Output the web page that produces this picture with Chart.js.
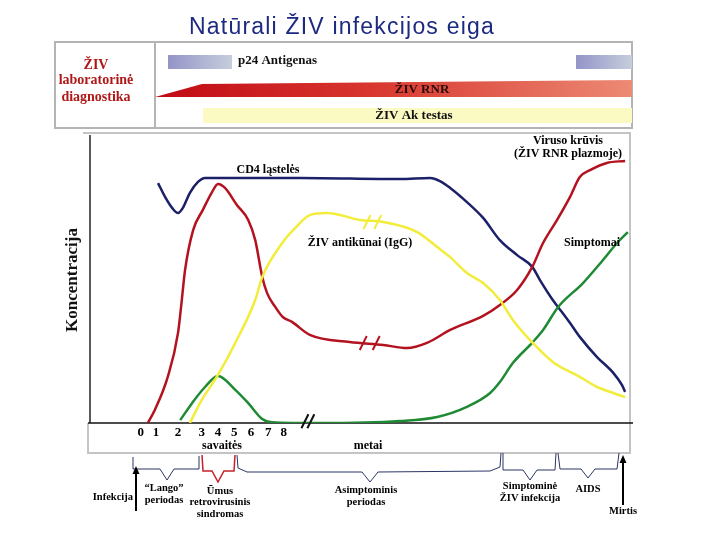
<!DOCTYPE html>
<html>
<head>
<meta charset="utf-8">
<title>Natūrali ŽIV infekcijos eiga</title>
<script src="https://cdn.jsdelivr.net/npm/chart.js"></script>
<style>
  html, body { margin: 0; padding: 0; background: #fff; }
  #wrap { width: 720px; height: 540px; position: relative; }
</style>
</head>
<body>
<div id="wrap"><canvas id="hivChart"></canvas></div>
<script>
// timeline position (0-100) and concentration (0-100)
const cd4X = [12.6, 13.9, 15.2, 16.3, 17.2, 18.5, 20.0, 21.3, 38.9, 57.4, 63.0, 64.8, 66.7, 69.8, 72.8, 75.9, 79.1, 81.9, 83.3, 85.7, 87.4, 88.9, 90.7, 93.9, 96.9, 98.5, 99.1];
const cd4Y = [83.3, 78.5, 74.7, 72.9, 74.7, 79.9, 83.7, 85.1, 85.1, 84.7, 85.1, 84.0, 81.6, 76.7, 71.2, 63.5, 58.3, 54.2, 49.7, 42.7, 38.5, 34.7, 29.9, 22.9, 17.4, 13.2, 10.8];

const rnaX = [10.7, 12.0, 14.4, 16.3, 17.0, 17.6, 19.1, 20.9, 22.6, 23.7, 25.0, 27.2, 29.3, 30.6, 31.9, 32.8, 34.3, 35.7, 37.4, 40.7, 48.1, 54.3, 58.7, 62.4, 66.7, 72.8, 75.9, 79.1, 81.9, 83.9, 86.5, 88.9, 90.7, 92.6, 95.7, 99.1];
const rnaY = [0, 4.5, 16.0, 31.3, 42.7, 53.1, 67.0, 74.0, 80.2, 83.0, 81.6, 75.7, 70.5, 63.5, 50.7, 45.1, 40.3, 36.8, 35.1, 30.6, 28.1, 27.1, 26.0, 27.8, 32.3, 37.2, 41.0, 46.2, 54.2, 62.5, 70.5, 78.5, 85.4, 87.8, 90.3, 91.0];

const iggX = [18.5, 20.7, 23.7, 26.9, 30.6, 31.9, 35.6, 38.0, 40.7, 43.9, 46.3, 50.0, 54.3, 60.6, 64.3, 66.7, 69.8, 72.8, 75.9, 78.3, 82.0, 85.7, 90.7, 93.9, 96.9, 99.1];
const iggY = [0, 8.0, 16.7, 27.8, 42.7, 50.7, 62.5, 67.7, 72.2, 72.9, 72.2, 70.5, 69.8, 66.3, 61.1, 57.6, 52.1, 48.6, 42.7, 35.8, 27.8, 21.2, 16.0, 12.5, 10.4, 9.0];

const symX = [16.7, 18.9, 21.3, 23.7, 26.9, 29.3, 31.9, 33.7, 42.6, 57.4, 64.3, 69.8, 74.1, 75.9, 78.3, 82.0, 83.9, 86.7, 91.3, 95.0, 97.6, 99.6];
const symY = [1.0, 6.9, 12.5, 16.3, 11.5, 6.9, 1.4, 0.3, 0, 0.7, 2.1, 5.6, 10.4, 14.2, 20.8, 28.1, 32.3, 40.3, 48.6, 56.6, 62.5, 66.3];

const weekTicks = [9.4, 12.2, 16.3, 20.7, 23.7, 26.7, 29.8, 33.0, 35.9];
const weekLabels = ['0', '1', '2', '3', '4', '5', '6', '7', '8'];

const breakMarks = [
  { x: 51.3, y: 69.8, color: '#f2ec3a' },
  { x: 53.3, y: 69.8, color: '#f2ec3a' },
  { x: 50.6, y: 27.8, color: '#b3121f' },
  { x: 53.0, y: 27.8, color: '#b3121f' },
  { x: 39.8, y: 0.6, color: '#111' },
  { x: 40.9, y: 0.6, color: '#111' }
];

const serif = '"Liberation Serif", "DejaVu Serif", serif';

function toPoints(xs, ys) {
  return xs.map((x, i) => ({ x, y: ys[i] }));
}

function text(c, str, x, y, font, color, align) {
  c.font = font;
  c.fillStyle = color || '#000';
  c.textAlign = align || 'center';
  c.textBaseline = 'middle';
  c.fillText(str, x, y);
}

function polyline(c, pts, color, width) {
  c.beginPath();
  c.moveTo(pts[0][0], pts[0][1]);
  pts.slice(1).forEach(p => c.lineTo(p[0], p[1]));
  c.strokeStyle = color;
  c.lineWidth = width || 1;
  c.stroke();
}

function arrowUp(c, x, yTop, yBottom) {
  polyline(c, [[x, yBottom], [x, yTop + 4]], '#000', 2);
  c.beginPath();
  c.moveTo(x, yTop);
  c.lineTo(x - 3.5, yTop + 8);
  c.lineTo(x + 3.5, yTop + 8);
  c.closePath();
  c.fillStyle = '#000';
  c.fill();
}

const decorPlugin = {
  id: 'decor',
  beforeDatasetsDraw(chart) {
    const c = chart.ctx;
    const a = chart.chartArea;
    c.save();

    c.save();
    c.letterSpacing = '1.2px';
    text(c, 'Natūrali ŽIV infekcijos eiga', 342, 28, '23px "Liberation Sans", Arial, sans-serif', '#1c2a80');
    c.restore();

    // laboratory diagnostics panel
    c.strokeStyle = '#b4b4b4';
    c.lineWidth = 2;
    c.strokeRect(55, 42, 577, 86);
    polyline(c, [[155, 42], [155, 128]], '#b4b4b4', 2);

    text(c, 'ŽIV', 96, 65, 'bold 14px ' + serif, '#b01818');
    text(c, 'laboratorinė', 96, 80, 'bold 14px ' + serif, '#b01818');
    text(c, 'diagnostika', 96, 97, 'bold 14px ' + serif, '#b01818');

    let g = c.createLinearGradient(168, 0, 232, 0);
    g.addColorStop(0, '#9494c8');
    g.addColorStop(1, '#c6cedc');
    c.fillStyle = g;
    c.fillRect(168, 55, 64, 14);
    g = c.createLinearGradient(576, 0, 632, 0);
    g.addColorStop(0, '#9494c8');
    g.addColorStop(1, '#c6cedc');
    c.fillStyle = g;
    c.fillRect(576, 55, 56, 14);
    text(c, 'p24 Antigenas', 238, 61, 'bold 13px ' + serif, '#111', 'left');

    g = c.createLinearGradient(155, 0, 632, 0);
    g.addColorStop(0, '#c00a14');
    g.addColorStop(0.45, '#d8362e');
    g.addColorStop(1, '#ec8a74');
    c.beginPath();
    c.moveTo(155, 97);
    c.lineTo(202, 84);
    c.lineTo(632, 80);
    c.lineTo(632, 97);
    c.closePath();
    c.fillStyle = g;
    c.fill();
    text(c, 'ŽIV RNR', 422, 90, 'bold 13px ' + serif, '#2a0a0a');

    c.fillStyle = '#fbfac2';
    c.fillRect(203, 108, 429, 15);
    text(c, 'ŽIV Ak testas', 414, 116, 'bold 13px ' + serif, '#111');

    // plot frame and axes
    polyline(c, [[83, 133], [630, 133], [630, 453], [88, 453], [88, a.bottom]], '#c4c4c4', 2);
    polyline(c, [[a.left, a.top], [a.left, a.bottom]], '#222', 1.5);
    polyline(c, [[88, a.bottom], [633, a.bottom]], '#111', 1.5);

    c.save();
    c.translate(73, 280);
    c.rotate(-Math.PI / 2);
    text(c, 'Koncentracija', 0, 0, 'bold 17px ' + serif, '#111');
    c.restore();

    c.restore();
  },
  afterDatasetsDraw(chart) {
    const c = chart.ctx;
    const a = chart.chartArea;
    const xs = chart.scales.x;
    const ys = chart.scales.y;
    c.save();

    breakMarks.forEach(b => {
      const px = xs.getPixelForValue(b.x);
      const py = ys.getPixelForValue(b.y);
      polyline(c, [[px - 3.5, py + 7], [px + 3.5, py - 7]], b.color, 2);
    });

    text(c, 'CD4 ląstelės', 268, 170, 'bold 12px ' + serif);
    text(c, 'ŽIV antikūnai (IgG)', 360, 243, 'bold 12px ' + serif);
    text(c, 'Viruso krūvis', 568, 141, 'bold 12px ' + serif);
    text(c, '(ŽIV RNR plazmoje)', 568, 154, 'bold 12px ' + serif);
    text(c, 'Simptomai', 592, 243, 'bold 12px ' + serif);

    weekTicks.forEach((t, i) => {
      text(c, weekLabels[i], xs.getPixelForValue(t), a.bottom + 10, 'bold 13px ' + serif);
    });
    text(c, 'savaitės', 222, 446, 'bold 12px ' + serif);
    text(c, 'metai', 368, 446, 'bold 12px ' + serif);

    // stage braces under the timeline
    const navy = '#2b3566';
    polyline(c, [[133, 457], [133, 469], [160, 469], [167, 480], [174, 469], [199, 469], [199, 456]], navy);
    polyline(c, [[202, 455], [203, 471], [212, 471], [218, 482], [224, 471], [234, 471], [235, 455]], '#c8202a', 1.5);
    polyline(c, [[237, 455], [238, 468], [247, 472], [362, 472], [370, 482], [378, 472], [490, 471], [500, 467], [501, 453]], navy);
    polyline(c, [[503, 453], [503, 470], [523, 470], [530, 480], [537, 470], [555, 470], [556, 453]], navy);
    polyline(c, [[558, 453], [560, 469], [581, 469], [588, 478], [595, 469], [617, 469], [619, 453]], navy);

    arrowUp(c, 136, 466, 511);
    arrowUp(c, 623, 455, 505);

    const small = 'bold 10.5px ' + serif;
    text(c, 'Infekcija', 133, 497, small, '#000', 'right');
    text(c, '“Lango”', 164, 488, small);
    text(c, 'periodas', 164, 500, small);
    text(c, 'Ūmus', 220, 491, small);
    text(c, 'retrovirusinis', 220, 502, small);
    text(c, 'sindromas', 220, 514, small);
    text(c, 'Asimptominis', 366, 490, small);
    text(c, 'periodas', 366, 502, small);
    text(c, 'Simptominė', 530, 486, small);
    text(c, 'ŽIV infekcija', 530, 498, small);
    text(c, 'AIDS', 588, 489, small);
    text(c, 'Mirtis', 623, 511, small);

    c.restore();
  }
};

function series(xs, ys, color) {
  return {
    data: toPoints(xs, ys),
    borderColor: color,
    borderWidth: 2.5,
    pointRadius: 0,
    cubicInterpolationMode: 'monotone',
    fill: false
  };
}

const ctx = document.getElementById('hivChart').getContext('2d');
let chart = new Chart(ctx, {
  type: 'line',
  data: {
    datasets: [
      series(iggX, iggY, '#f2ec3a'),
      series(symX, symY, '#1e8a34'),
      series(rnaX, rnaY, '#b3121f'),
      series(cd4X, cd4Y, '#1b2068')
    ]
  },
  options: {
    responsive: true,
    maintainAspectRatio: false,
    animation: false,
    layout: { padding: { left: 90, right: 90, top: 135, bottom: 117 } },
    scales: {
      x: { type: 'linear', min: 0, max: 100, display: false },
      y: { min: 0, max: 100, display: false }
    },
    plugins: {
      legend: { display: false },
      tooltip: { enabled: false }
    }
  },
  plugins: [decorPlugin]
});
</script>
</body>
</html>
